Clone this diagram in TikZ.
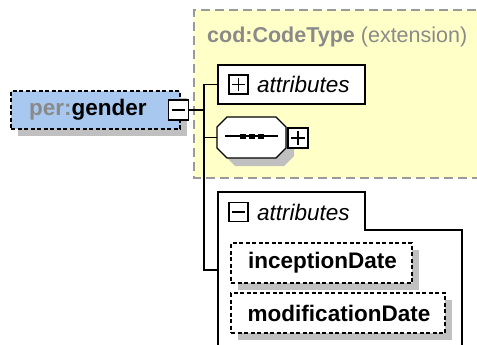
\documentclass[tikz,border=0pt]{standalone}
\usepackage{fontspec}
\setmainfont{Liberation Sans}
\usetikzlibrary{shadows}
\definecolor{elemblue}{HTML}{A8C8F0}
\definecolor{typeyellow}{HTML}{FFFFC8}
\definecolor{shadowgray}{HTML}{C0C0C0}
\definecolor{labelgray}{HTML}{8A8A8A}
\definecolor{frame}{HTML}{9A9A9A}
\tikzset{
  txt/.style={font=\fontsize{22.5}{25}\selectfont, inner sep=0pt},
  boldtxt/.style={txt, font=\fontsize{22.5}{25}\selectfont\bfseries},
  ittxt/.style={txt, font=\fontsize{22.5}{25}\selectfont\itshape},
  shade/.style={drop shadow={shadow xshift=7pt, shadow yshift=-7pt, fill=shadowgray, opacity=1}},
  pmbox/.style={draw, fill=white, line width=1.3pt, minimum size=19pt, inner sep=0pt},
  optelem/.style={draw, line width=1.3pt, dash pattern=on 4pt off 2.5pt, inner sep=0pt, minimum height=40pt, shade},
  wire/.style={line width=1.3pt},
}
\begin{document}
\begin{tikzpicture}[x=1pt, y=-1pt]
\useasboundingbox (0,0) rectangle (477,345);
\clip (0,0) rectangle (477,345);

% extension type frame (runs past the right edge)
\fill[typeyellow] (194,10) rectangle (490,178);
\draw[frame, line width=1.3pt, dash pattern=on 9pt off 5pt]
  (490,10) -- (194,10) -- (194,178) -- (490,178);
\node[txt, font=\fontsize{21.5}{24}\selectfont, anchor=west, text=labelgray] (typelbl) at (207,37)
  {\textbf{cod:CodeType} (extension)};

% element per:gender
\node[optelem, fill=elemblue, minimum width=169pt, minimum height=38pt] (gender) at (95.5,110) {};
\node[boldtxt, anchor=west] (gendertxt) at (29,110) {\textcolor{labelgray}{per:}gender};
\node[pmbox, minimum size=20pt] (gm) at (178.5,110) {};
\draw[line width=1.3pt] ([xshift=4pt]gm.west) -- ([xshift=-4pt]gm.east);

% attributes (collapsed)
\node[draw, fill=white, line width=1.3pt, minimum width=147pt, minimum height=39pt, inner sep=0pt] (attrsA) at (291.5,84.5) {};
\node[pmbox] (pa) at (238.5,84.5) {};
\draw[line width=1.2pt] ([xshift=3.5pt]pa.west) -- ([xshift=-3.5pt]pa.east)
  ([yshift=-3.5pt]pa.north) -- ([yshift=3.5pt]pa.south);
\node[ittxt, anchor=west] (attrsAtxt) at (257,84) {attributes};

% sequence compositor
\coordinate (seq) at (251.5,137.5);
\begin{scope}[shift={(8,8)}]
  \fill[shadowgray] (227,117) -- (276,117) -- (286,127) -- (286,148) -- (276,158)
    -- (227,158) -- (217,148) -- (217,127) -- cycle;
\end{scope}
\draw[fill=white, line width=1.3pt] (227,117) -- (276,117) -- (286,127) -- (286,148) -- (276,158)
  -- (227,158) -- (217,148) -- (217,127) -- cycle;
\node[inner sep=0pt, minimum width=69pt, minimum height=41pt] (seqbox) at (seq) {};
\draw[line width=1.3pt] (225,136) -- (278,136);
\foreach \dx in {242.5,251.5,260.5}
  \fill (\dx-3,133.5) rectangle (\dx+3,138.5);
\node[pmbox, minimum size=20pt] (ps) at (298,138) {};
\draw[line width=1.2pt] ([xshift=3.5pt]ps.west) -- ([xshift=-3.5pt]ps.east)
  ([yshift=-3.5pt]ps.north) -- ([yshift=3.5pt]ps.south);

% attributes (expanded) group with tab
\draw[line width=1.3pt] (218,360) -- (218,192) -- (365,192) -- (365,230) -- (462,230) -- (462,360);
\coordinate (grp) at (218,270);
\node[pmbox] (pb) at (238.5,212) {};
\draw[line width=1.2pt] ([xshift=3.5pt]pb.west) -- ([xshift=-3.5pt]pb.east);
\node[ittxt, anchor=west] (attrsBtxt) at (257,212) {attributes};

\node[optelem, fill=white, minimum width=181pt] (incep) at (321.5,263) {};
\node[boldtxt] (inceptxt) at (322.5,263) {inceptionDate};
\node[optelem, fill=white, minimum width=214pt] (modif) at (338,313) {};
\node[boldtxt] (modiftxt) at (339,313) {modificationDate};

% connectors
\coordinate (trunk) at (204,110);
\draw[wire] (gm.east) -- (trunk);
\draw[wire] (attrsA.west) -- (trunk |- attrsA.west) -- (trunk |- grp) -- (grp);
\draw[wire] (trunk |- seqbox.west) -- (seqbox.west);
\end{tikzpicture}
\end{document}
